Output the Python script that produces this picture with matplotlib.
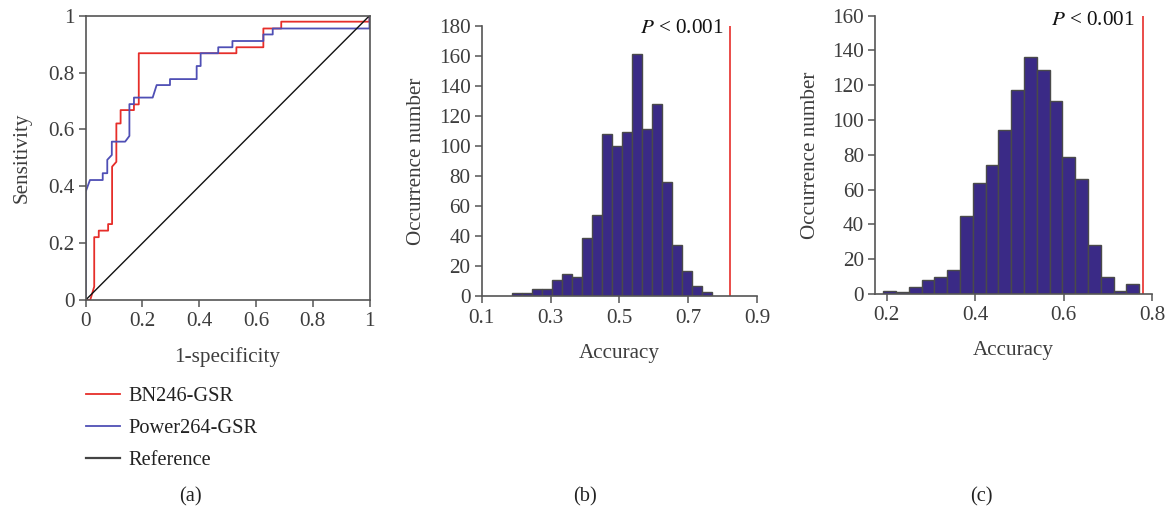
import matplotlib
matplotlib.use("Agg")
import matplotlib.pyplot as plt
import numpy as np

plt.rcParams['font.family'] = ['Liberation Serif', 'DejaVu Serif']

# ---------------- data ----------------
# ROC curves (1-specificity, sensitivity)
bn_fpr = [0, 0.016, 0.030, 0.030, 0.046, 0.046, 0.079, 0.079, 0.093, 0.093, 0.108, 0.108,
          0.123, 0.123, 0.170, 0.170, 0.187, 0.187, 0.531, 0.531, 0.626, 0.626, 0.689, 0.689,
          1.0, 1.0]
bn_tpr = [0, 0, 0.047, 0.221, 0.221, 0.244, 0.244, 0.267, 0.267, 0.469, 0.486, 0.621,
          0.621, 0.668, 0.668, 0.688, 0.688, 0.868, 0.868, 0.889, 0.889, 0.955, 0.955, 0.979,
          0.979, 1.0]
pw_fpr = [0, 0, 0.015, 0.060, 0.060, 0.076, 0.076, 0.092, 0.092, 0.139, 0.154, 0.154,
          0.170, 0.170, 0.236, 0.250, 0.297, 0.297, 0.391, 0.391, 0.405, 0.405, 0.467, 0.467,
          0.517, 0.517, 0.626, 0.626, 0.659, 0.659, 1.0, 1.0]
pw_tpr = [0, 0.381, 0.422, 0.422, 0.446, 0.446, 0.493, 0.510, 0.557, 0.557, 0.577, 0.689,
          0.689, 0.712, 0.712, 0.756, 0.756, 0.777, 0.777, 0.823, 0.823, 0.868, 0.868, 0.889,
          0.889, 0.911, 0.911, 0.934, 0.934, 0.955, 0.955, 1.0]
ref_xy = [0, 1]
roc_labels = ["BN246-GSR", "Power264-GSR", "Reference"]
roc_ticks = [0, 0.2, 0.4, 0.6, 0.8, 1]
roc_ticklabels = ["0", "0.2", "0.4", "0.6", "0.8", "1"]

# Permutation histogram (b)
b_bin_start = 0.189
b_bin_width = 0.02905
b_counts = [2, 2, 5, 5, 11, 15, 13, 39, 54, 108, 100, 109, 161, 111, 128, 76, 34, 17, 7, 3]
b_actual = 0.822
b_xticks = [0.1, 0.3, 0.5, 0.7, 0.9]
b_yticks = list(range(0, 181, 20))

# Permutation histogram (c)
c_bin_start = 0.1925
c_bin_width = 0.0289
c_counts = [2, 1, 4, 8, 10, 14, 45, 64, 74, 94, 117, 136, 129, 111, 79, 66, 28, 10, 2, 6]
c_actual = 0.780
c_xticks = [0.2, 0.4, 0.6, 0.8]
c_yticks = list(range(0, 161, 20))

# ---------------- style ----------------
RED = '#e62e2a'
BLUE = '#4f4fb5'
BAR = '#3a2a86'
EDGE = '#4a4a4a'
SPINE = '#555555'
TXT = '#3d3d3d'
FS = 15.2
LFS = 14.7

fig = plt.figure(figsize=(11.68, 5.09), dpi=100)
W, H = 1168, 509

def add_axes(l, r, t, b):
    return fig.add_axes([l / W, (H - b) / H, (r - l) / W, (b - t) / H])

def style(ax, box=False):
    for s in ['left', 'bottom', 'top', 'right']:
        ax.spines[s].set_color(SPINE)
        ax.spines[s].set_linewidth(1.2)
    if not box:
        ax.spines['top'].set_visible(False)
        ax.spines['right'].set_visible(False)
    ax.tick_params(direction='out', length=5, width=1.1, color=SPINE,
                   labelsize=FS, labelcolor=TXT)
    ax.tick_params(axis='x', pad=4)
    ax.tick_params(axis='y', pad=3)

# ---- panel (a) ----
axa = add_axes(85.7, 369.5, 15.7, 300)
axa.plot(bn_fpr, bn_tpr, color=RED, lw=1.3, label=roc_labels[0])
axa.plot(pw_fpr, pw_tpr, color=BLUE, lw=1.3, label=roc_labels[1])
axa.plot(ref_xy, ref_xy, color='#111111', lw=1.0, label=roc_labels[2])
axa.set_xlim(0, 1)
axa.set_ylim(0, 1)
axa.set_xticks(roc_ticks)
axa.set_xticklabels(roc_ticklabels)
axa.set_yticks(roc_ticks)
axa.set_yticklabels(roc_ticklabels)
style(axa, box=True)
axa.set_xlabel("1-specificity", fontsize=FS, color=TXT, labelpad=11)
axa.set_ylabel("Sensitivity", fontsize=FS, color=TXT, labelpad=12)

leg_handles = [plt.Line2D([], [], color=RED, lw=1.3),
               plt.Line2D([], [], color=BLUE, lw=1.3),
               plt.Line2D([], [], color='#444444', lw=1.6)]
fig.legend(leg_handles, roc_labels, loc='upper left',
           bbox_to_anchor=(77.5 / W, (H - 379) / H), frameon=False,
           fontsize=LFS, handlelength=1.67, handletextpad=0.45,
           labelspacing=0.62, borderaxespad=0, labelcolor='#222222')

# ---- panel (b) ----
axb = add_axes(481.7, 757, 25.7, 296.3)
b_edges = b_bin_start + b_bin_width * np.arange(len(b_counts))
axb.bar(b_edges, b_counts, width=b_bin_width, align='edge', color=BAR,
        edgecolor=EDGE, linewidth=1.0)
axb.axvline(b_actual, color=RED, lw=1.2)
axb.set_xlim(0.1, 0.9)
axb.set_ylim(0, 180)
axb.set_xticks(b_xticks)
axb.set_xticklabels([f"{v:.1f}" for v in b_xticks])
axb.set_yticks(b_yticks)
style(axb)
axb.set_xlabel("Accuracy", fontsize=FS, color=TXT, labelpad=12)
axb.set_ylabel("Occurrence number", fontsize=FS, color=TXT, labelpad=9)
axb.text(b_actual - 0.02, 178, r"$P$ < 0.001", fontsize=FS, color='#111111',
         ha='right', va='center', math_fontfamily='stix')

# ---- panel (c) ----
axc = add_axes(875, 1152.3, 15.7, 294)
c_edges = c_bin_start + c_bin_width * np.arange(len(c_counts))
axc.bar(c_edges, c_counts, width=c_bin_width, align='edge', color=BAR,
        edgecolor=EDGE, linewidth=1.0)
axc.axvline(c_actual, color=RED, lw=1.2)
axc.set_xlim(0.174, 0.8)
axc.set_ylim(0, 160)
axc.set_xticks(c_xticks)
axc.set_xticklabels([f"{v:.1f}" for v in c_xticks])
axc.set_yticks(c_yticks)
style(axc)
axc.set_xlabel("Accuracy", fontsize=FS, color=TXT, labelpad=11.5)
axc.set_ylabel("Occurrence number", fontsize=FS, color=TXT, labelpad=9)
axc.text(c_actual - 0.02, 157, r"$P$ < 0.001", fontsize=FS, color='#111111',
         ha='right', va='center', math_fontfamily='stix')

# panel labels
for x, s in [(190.7, "(a)"), (585, "(b)"), (981, "(c)")]:
    fig.text(x / W, (H - 497) / H, s, fontsize=LFS, color='#222222',
             ha='center', va='center')

fig.savefig("out.png", dpi=100)
